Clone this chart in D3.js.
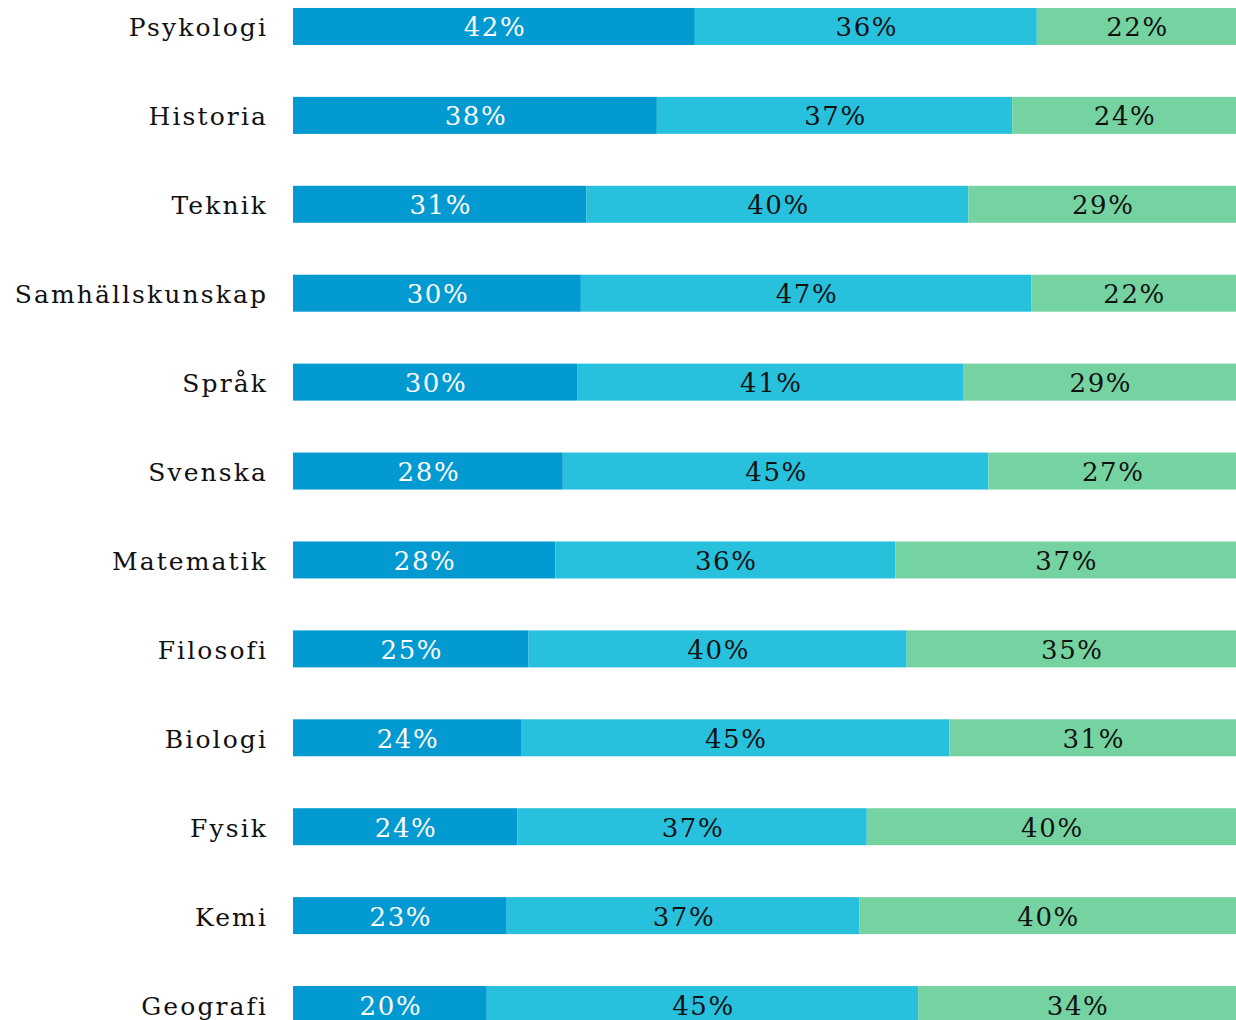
<!DOCTYPE html>
<html>
<head>
  <meta charset="UTF-8">
  <title>Ämnen</title>
  <style>
    body { margin: 0; background: #fff; }
    svg { display: block; overflow: hidden; }
    .cat { font-family: "DejaVu Serif", serif; font-size: 25px; fill: #111; letter-spacing: 2.1px; }
    .pct { font-family: "DejaVu Serif", serif; font-size: 26px; letter-spacing: 1.6px; }
  </style>
</head>
<body>
<svg></svg>
<script src="https://d3js.org/d3.v7.min.js"></script>
<script>

let width = 1236, height = 1020;

// data (percent)
let subjects = ["Psykologi", "Historia", "Teknik", "Samhällskunskap", "Språk", "Svenska",
                "Matematik", "Filosofi", "Biologi", "Fysik", "Kemi", "Geografi"];
let first  = [42.3, 38.3, 30.9, 30.3, 29.9, 28.4, 27.6, 24.8, 24.0, 23.6, 22.5, 20.4];
let second = [36.0, 37.4, 40.2, 47.4, 40.7, 44.8, 35.8, 39.8, 45.1, 36.8, 37.1, 45.4];
let third  = [21.7, 24.3, 28.9, 22.3, 29.4, 26.8, 36.6, 35.4, 30.9, 39.6, 40.4, 34.2];

let seriesKeys = ["a", "b", "c"];
let colors = ["#0399d1", "#27c1de", "#75d3a1"];
let textColors = ["#fff", "#111", "#111"];

let rows = subjects.map((s, i) => ({ subject: s, a: first[i], b: second[i], c: third[i] }));

let svg = d3.select("svg")
    .attr("width", width)
    .attr("height", height);

let x = d3.scaleLinear()
    .domain([0, 100])
    .range([293, 1243]);

let y = d3.scaleBand()
    .domain(subjects)
    .range([-18, 1049])
    .paddingInner(0.584)
    .paddingOuter(0.292);

let stack = d3.stack().keys(seriesKeys)(rows);

let groups = svg.append("g")
  .selectAll("g")
  .data(stack)
  .enter()
  .append("g")
    .attr("fill", (d, i) => colors[i]);

groups.selectAll("rect")
  .data(d => d)
  .enter()
  .append("rect")
    .attr("x", d => x(d[0]))
    .attr("y", d => y(d.data.subject))
    .attr("width", d => x(d[1]) - x(d[0]))
    .attr("height", y.bandwidth());

groups.each(function(s, i) {
    d3.select(this).selectAll("text")
      .data(s)
      .enter()
      .append("text")
        .attr("class", "pct")
        .attr("x", d => (x(d[0]) + Math.min(x(d[1]), width)) / 2 + 1)
        .attr("y", d => y(d.data.subject) + y.bandwidth() / 2 + 10)
        .attr("text-anchor", "middle")
        .attr("fill", textColors[i])
        .text(d => Math.round(d[1] - d[0]) + "%");
});

// category labels
svg.append("g")
  .selectAll("text")
  .data(subjects)
  .enter()
  .append("text")
    .attr("class", "cat")
    .attr("x", 268)
    .attr("y", d => y(d) + y.bandwidth() / 2 + 10)
    .attr("text-anchor", "end")
    .text(d => d);

</script>
</body>
</html>
